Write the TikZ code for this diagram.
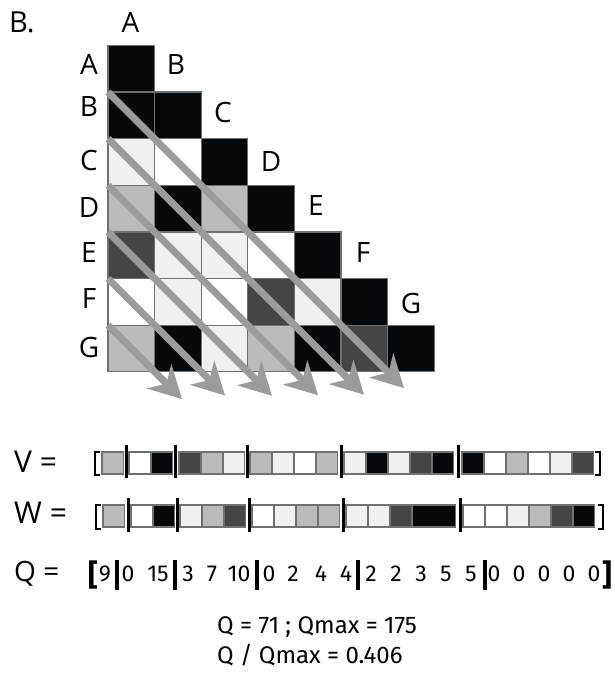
\documentclass[tikz,border=0pt]{standalone}
\usepackage{fontspec}
\setmainfont{Open Sans}
\newfontfamily\qfont{Fira Sans}
\usetikzlibrary{arrows.meta}
\definecolor{cK}{HTML}{05090B}
\definecolor{cD}{HTML}{454545}
\definecolor{cM}{HTML}{BBBBBB}
\definecolor{cL}{HTML}{F0F0F0}
\definecolor{cW}{HTML}{FFFFFF}
\definecolor{edgegray}{HTML}{707070}
\definecolor{arrgray}{HTML}{9B9B9B}
\tikzset{
  lab/.style={font=\fontsize{28}{30}\selectfont, inner sep=0pt, anchor=base},
  vwlab/.style={font=\fontsize{30}{32}\selectfont, inner sep=0pt, anchor=base west},
  qtxt/.style={font=\qfont\fontsize{23}{25}\selectfont, inner sep=0pt, anchor=base},
  qbrk/.style={font=\qfont\bfseries\fontsize{30}{32}\selectfont, inner sep=0pt, anchor=base},
  restxt/.style={font=\qfont\fontsize{24}{26}\selectfont, inner sep=0pt, anchor=base west},
  cellbox/.style={draw=edgegray, line width=1.2pt},
  diag/.style={draw=arrgray, line width=7pt, -{Stealth[length=32pt,width=34pt,inset=10pt]}},
  divider/.style={line width=3pt, black},
  qbar/.style={line width=3.5pt, black},
  brk/.style={line width=2pt, black},
}
\begin{document}
\begin{tikzpicture}[x=1pt,y=-1pt]
\fill[white] (0,0) rectangle (614,682);
\useasboundingbox (0,0) rectangle (614,682);
\def\xo{108}
\def\yo{45.5}
\def\s{46.6}
% matrix cells
\foreach \row [count=\r from 0] in {{K},{K,K},{L,W,K},{M,K,M,K},{D,L,L,W,K},{W,L,W,D,L,K},{M,K,L,M,K,D,K}} {
  \foreach \c [count=\k from 0] in \row {
    \filldraw[cellbox, fill=c\c] ({\xo+\k*\s},{\yo+\r*\s}) rectangle +(\s,\s);
  }
}
% diagonal arrows
\foreach \r/\L in {1/296,2/256,3/210,4/164,5/117,6/74} {
  \coordinate (s\r) at (\xo,{\yo+\r*\s});
  \coordinate (e\r) at ({\xo+\L},{\yo+\r*\s+\L});
  \draw[diag] (s\r) -- (e\r);
}
% labels
\node[inner sep=0pt, anchor=base west, font=\fontsize{29}{31}\selectfont] (title) at (9,33) {B.};
\foreach \t/\y in {A/75,B/117,C/170,D/217,E/262,F/308,G/357}
  \node[lab] (row\t) at (89,\y) {\t};
\foreach \t/\x/\y in {A/130.5/33,B/176/75,C/223/122,D/271/171,E/316/215,F/363/262,G/411/313}
  \node[lab] (col\t) at (\x,\y) {\t};
% V row
\node[vwlab] (vlab) at (14,472) {V =};
\foreach \x/\c in {102/M,129/W,151/K,179/D,201/M,223/L,250/M,272/L,294/W,316/M,344/L,366/K,388/L,410/D,432/K,462/K,484/W,506/M,528/W,550/L,572/D}
  \filldraw[cellbox, fill=c\c] (\x,452) rectangle +(21.5,22);
\foreach \x in {126,175.5,247.5,341,458.5}
  \draw[divider] (\x,445) -- (\x,478);
\draw[brk] (100,452) -- (95,452) -- (95,475) -- (100,475);
\draw[brk] (595,452) -- (600,452) -- (600,475) -- (595,475);
% W row
\node[vwlab] (wlab) at (14,523) {W =};
\foreach \x/\c in {103/M,131/W,153/K,180/L,202/M,224/D,252/W,274/L,296/M,318/M,346/L,368/L,390/D,463/W,485/W,507/L,529/M,551/D,573/K}
  \filldraw[cellbox, fill=c\c] (\x,505) rectangle +(21.5,22);
\filldraw[cellbox, fill=cK] (412,505) rectangle +(43.5,22);
\foreach \x in {128,177,249,343,460}
  \draw[divider] (\x,498) -- (\x,532);
\draw[brk] (101,505) -- (96,505) -- (96,529) -- (101,529);
\draw[brk] (598,505) -- (603,505) -- (603,529) -- (598,529);
% Q row
\node[vwlab, font=\fontsize{28}{30}\selectfont] (qlab) at (14,581) {Q =};
\node[qbrk] (qlb) at (93,585) {[};
\node[qbrk] (qrb) at (607,585) {]};
\foreach \x/\t [count=\i] in {105/9,128/0,158/15,188/3,212/7,239/10,269/0,293/2,321/4,346/4,371/2,396/2,421/3,446/5,471/5,494/0,519/0,544/0,569/0,594/0}
  \node[qtxt] (q\i) at (\x,581) {\t};
\foreach \x in {117,175,257,358,485}
  \draw[qbar] (\x,560) -- (\x,590);
% result
\node[restxt] (res1) at (217,633) {Q = 71 ; Qmax = 175};
\node[restxt] (res2) at (217,663) {Q / Qmax = 0.406};
\end{tikzpicture}
\end{document}
